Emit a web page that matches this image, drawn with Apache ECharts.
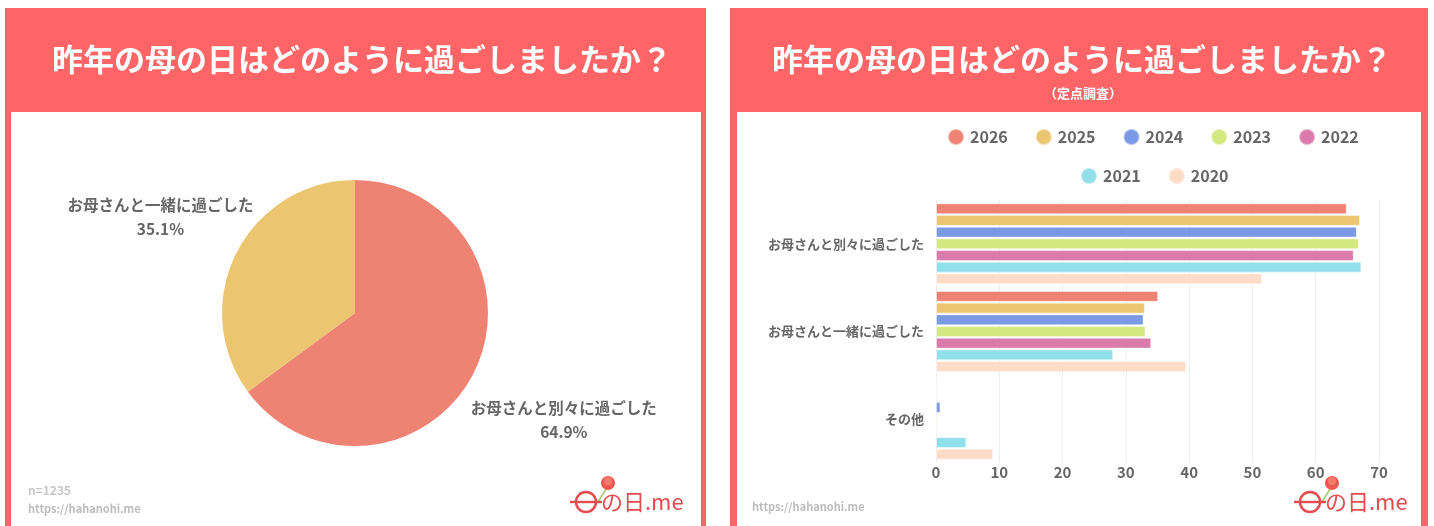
<!DOCTYPE html>
<html><head><meta charset="utf-8">
<script src="https://cdn.jsdelivr.net/npm/echarts@6/dist/echarts.min.js"></script>
<style>html,body{margin:0;padding:0;background:#fff}#c{width:1434px;height:526px}</style>
</head><body><div id="c"></div>
<script>
// ---- data ----
const titleText = '昨年の母の日はどのように過ごしましたか？';
const subTitle = '（定点調査）';
const pieNames = ['お母さんと別々に過ごした', 'お母さんと一緒に過ごした'];
const pieValues = [64.9, 35.1];
const barCategories = ['お母さんと別々に過ごした', 'お母さんと一緒に過ごした', 'その他'];
const years = ['2026', '2025', '2024', '2023', '2022', '2021', '2020'];
const v2026 = [64.9, 35.1, 0];
const v2025 = [67.0, 33.0, 0];
const v2024 = [66.5, 32.8, 0.7];
const v2023 = [66.8, 33.1, 0.2];
const v2022 = [66.0, 34.0, 0];
const v2021 = [67.2, 28.0, 4.8];
const v2020 = [51.5, 39.5, 9.0];
const xTicks = [0, 10, 20, 30, 40, 50, 60, 70];
const sampleNote = 'n=1235';
const siteUrl = 'https://hahanohi.me';

// ---- styles ----
const yearColors = ['#EE8374', '#ECC571', '#7B9AE6', '#D3E87F', '#DA7BAC', '#90DFEA', '#FFDCC8'];
const pieColors = ['#EE8374', '#ECC571'];
const RED = '#FF6566';
const FONT = '"Noto Sans CJK JP", "Noto Sans", sans-serif';
const yearValues = [v2026, v2025, v2024, v2023, v2022, v2021, v2020];

const pieCenter = [355, 313], pieR = 133;
const labelDist = [234, 218];
const labelShiftY = 2;

const chart = echarts.init(document.getElementById('c'));

function logo(x, y) {
  return {
    type: 'group', x: x, y: y, children: [
      {type: 'line', shape: {x1: 24, y1: 4, x2: 34, y2: -12}, style: {stroke: '#9BCB6B', lineWidth: 1.5}},
      {type: 'circle', shape: {cx: 34, cy: -15, r: 7}, style: {fill: '#F0584F'}},
      {type: 'circle', shape: {cx: 34, cy: -17, r: 4}, style: {fill: '#F47A6E'}},
      {type: 'circle', shape: {cx: 12, cy: 4, r: 10}, style: {fill: 'none', stroke: '#E44B4F', lineWidth: 2.4}},
      {type: 'line', shape: {x1: -4, y1: 4, x2: 28, y2: 4}, style: {stroke: '#E44B4F', lineWidth: 2.4}},
      {type: 'text', x: 27, y: 4, style: {text: 'の日.me', fill: '#E44B4F', font: '22px ' + FONT, verticalAlign: 'middle'}}
    ]
  };
}

const legendText = {color: '#666', fontWeight: 'bold', fontSize: 16, fontFamily: FONT, padding: [0, 0, 0, 1]};

const option = {
  animation: false,
  textStyle: {fontFamily: FONT},
  color: yearColors,
  graphic: [
    {type: 'rect', z: -10, shape: {x: 5, y: 8, width: 701, height: 530}, style: {fill: RED}},
    {type: 'rect', z: -9, shape: {x: 11, y: 112, width: 690, height: 430}, style: {fill: '#fff'}},
    {type: 'rect', z: -10, shape: {x: 730, y: 8, width: 698, height: 530}, style: {fill: RED}},
    {type: 'rect', z: -9, shape: {x: 737, y: 112, width: 684, height: 430}, style: {fill: '#fff'}},
    {type: 'text', x: 28, y: 490, style: {text: sampleNote, fill: '#c8c8c8', font: 'bold 12px ' + FONT, verticalAlign: 'middle'}},
    {type: 'text', x: 28, y: 509, style: {text: siteUrl, fill: '#bdbdbd', font: 'bold 11px ' + FONT, verticalAlign: 'middle'}},
    {type: 'text', x: 752, y: 507, style: {text: siteUrl, fill: '#bdbdbd', font: 'bold 11px ' + FONT, verticalAlign: 'middle'}},
    logo(574, 498),
    logo(1298, 498)
  ],
  title: [
    {text: titleText, left: 357, top: 39, textAlign: 'center',
     textStyle: {color: '#fff', fontSize: 31, fontWeight: 'bold', fontFamily: FONT}},
    {text: titleText, left: 1077, top: 39, textAlign: 'center',
     textStyle: {color: '#fff', fontSize: 31, fontWeight: 'bold', fontFamily: FONT}},
    {text: subTitle, left: 1078, top: 82, textAlign: 'center',
     textStyle: {color: '#fff', fontSize: 13, fontWeight: 'bold', fontFamily: FONT}}
  ],
  legend: [
    {data: years.slice(0, 5), left: 942, top: 123, icon: 'circle', itemWidth: 16, itemHeight: 16,
     itemGap: 27, textStyle: legendText},
    {data: years.slice(5), left: 1075, top: 162, icon: 'circle', itemWidth: 16, itemHeight: 16,
     itemGap: 27, textStyle: legendText}
  ],
  grid: {left: 936, right: 55, top: 200, bottom: 63, containLabel: false},
  xAxis: {
    type: 'value', min: 0, max: 70, interval: 10,
    axisLine: {show: false}, axisTick: {show: false},
    splitLine: {lineStyle: {color: '#eeeeee'}},
    axisLabel: {color: '#666', fontWeight: 'bold', fontSize: 15, margin: 2, fontFamily: FONT,
      formatter: v => xTicks.indexOf(v) >= 0 ? String(v) : ''}
  },
  yAxis: {
    type: 'category', data: barCategories, inverse: true,
    axisLine: {show: false}, axisTick: {show: false},
    axisLabel: {color: '#666', fontWeight: 'bold', fontSize: 13, margin: 12, fontFamily: FONT}
  },
  series: [
    {
      type: 'pie', center: pieCenter, radius: pieR, startAngle: 90, clockwise: true,
      color: pieColors,
      data: pieNames.map((n, i) => ({name: n, value: pieValues[i]})),
      label: {
        show: true, position: 'outside', color: '#666', fontWeight: 'bold', fontSize: 15.5,
        lineHeight: 24, fontFamily: FONT, align: 'center', overflow: 'none', alignTo: 'none',
        formatter: p => p.name + '\n' + p.value.toFixed(1) + '%'
      },
      labelLine: {show: false},
      labelLayout: function (p) {
        const total = pieValues.reduce((a, b) => a + b, 0);
        let before = 0;
        for (let i = 0; i < p.dataIndex; i++) before += pieValues[i];
        const mid = (before + pieValues[p.dataIndex] / 2) / total * 2 * Math.PI;
        const d = labelDist[p.dataIndex];
        return {
          x: pieCenter[0] + d * Math.sin(mid),
          y: pieCenter[1] - d * Math.cos(mid) + labelShiftY,
          align: 'center', verticalAlign: 'middle'
        };
      },
      emphasis: {disabled: true},
      itemStyle: {borderWidth: 0}
    }
  ].concat(years.map((y, i) => ({
    name: y, type: 'bar', data: yearValues[i],
    barCategoryGap: '7.6%', barGap: '8%', barMinHeight: 0,
    itemStyle: {color: yearColors[i], borderColor: 'rgba(255,255,255,0.45)', borderWidth: 1},
    emphasis: {disabled: true}
  })))
};
chart.setOption(option);
</script></body></html>
